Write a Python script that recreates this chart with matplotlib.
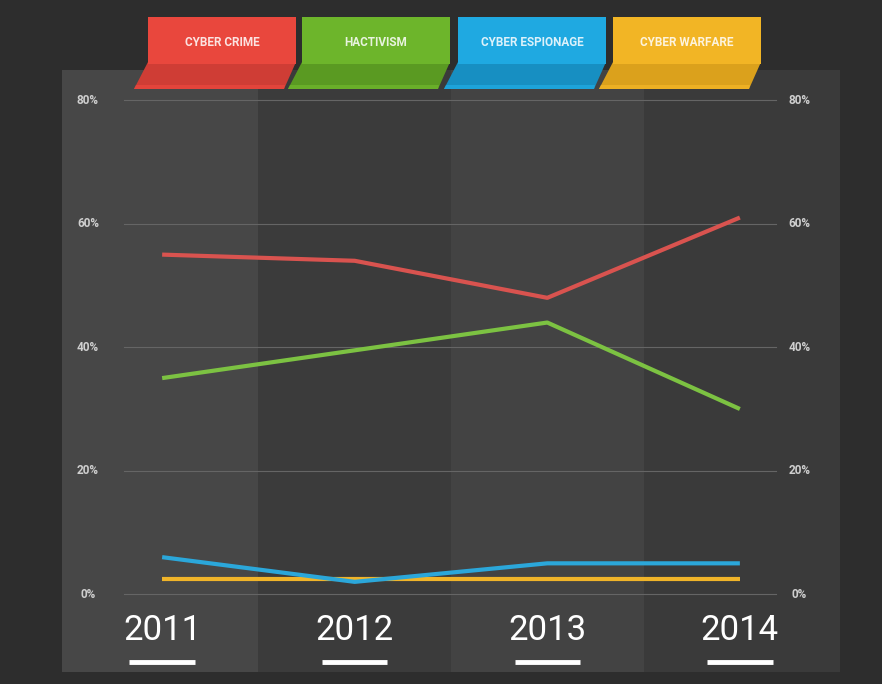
import matplotlib
matplotlib.use('Agg')
import matplotlib.pyplot as plt
from matplotlib.patches import Rectangle, Polygon

years = ['2011', '2012', '2013', '2014']
series_names = ['CYBER CRIME', 'HACTIVISM', 'CYBER ESPIONAGE', 'CYBER WARFARE']
cyber_crime = [55, 54, 48, 61]
hactivism = [35, 39.5, 44, 30]
cyber_espionage = [6, 2, 5, 5]
cyber_warfare = [2.5, 2.5, 2.5, 2.5]
y_ticks = [0, 20, 40, 60, 80]
y_tick_labels = ['0%', '20%', '40%', '60%', '80%']

line_colors = ['#d9534f', '#7cc242', '#2ba7da', '#f0b429']
ribbon_colors = ['#e9473d', '#6db52b', '#1fa9e1', '#f2b525']
fold_colors = ['#cf3d35', '#5a9a22', '#178fc2', '#dba11c']

W, H = 882, 684
fig = plt.figure(figsize=(W / 100, H / 100), dpi=100)
fig.patch.set_facecolor('#2d2d2d')

# panel in pixel coordinates
px_l, px_r, px_t, px_b = 62, 840, 70, 672
ax = fig.add_axes([px_l / W, 1 - px_b / H, (px_r - px_l) / W, (px_b - px_t) / H])
ax.set_xlim(-0.52, 3.52)
ax.set_ylim(-12.6, 84.9)
ax.axis('off')

band_colors = ['#474747', '#3b3b3b', '#434343', '#3a3a3a']
for i in range(len(years)):
    ax.axvspan(i - 0.5 if i > 0 else -0.52, i + 0.5 if i < 3 else 3.52,
               color=band_colors[i], zorder=0, lw=0)

for t, lab in zip(y_ticks, y_tick_labels):
    ax.plot([-0.2, 3.19], [t, t], color='#656565', lw=0.8, zorder=1)
    ax.text(-0.385, t, lab, color='#cfcfcf', fontsize=8.5, ha='center', va='center',
            family='Roboto', fontweight='bold')
    ax.text(3.31, t, lab, color='#cfcfcf', fontsize=8.5, ha='center', va='center',
            family='Roboto', fontweight='bold')

x = list(range(len(years)))
for vals, c in zip([cyber_warfare, cyber_espionage, hactivism, cyber_crime],
                   [line_colors[3], line_colors[2], line_colors[1], line_colors[0]]):
    ax.plot(x, vals, color=c, lw=3, solid_capstyle='butt', zorder=3)

for i, y in enumerate(years):
    ax.text(i, -5.9, y, color='white', fontsize=25, ha='center', va='center',
            family='Roboto')
    ax.plot([i - 0.17, i + 0.17], [-11, -11], color='white', lw=3.5, solid_capstyle='butt')

# ribbon legend on top, pixel coords
lax = fig.add_axes([0, 0, 1, 1], facecolor='none')
lax.set_xlim(0, W)
lax.set_ylim(H, 0)
lax.axis('off')
ribbon_x = [148, 302, 458, 613]
rw = 148
for rx, name, c, fc in zip(ribbon_x, series_names, ribbon_colors, fold_colors):
    lax.add_patch(Polygon([(rx - 14, 89), (rx + rw - 12, 89), (rx + rw, 62), (rx, 62)],
                          closed=True, facecolor=fc, edgecolor='none'))
    lax.add_patch(Polygon([(rx - 14, 89), (rx + rw - 12, 89), (rx + rw - 11, 85), (rx - 12, 85)],
                          closed=True, facecolor=c, edgecolor='none', alpha=0.8))
    lax.add_patch(Rectangle((rx, 17), rw, 47, facecolor=c, edgecolor='none'))
    lax.text(rx + rw / 2, 42, name, color='white', fontsize=8.5, ha='center', va='center',
             family='Roboto', fontweight='bold', alpha=0.85)

fig.savefig('out.png', dpi=100, facecolor=fig.get_facecolor())
